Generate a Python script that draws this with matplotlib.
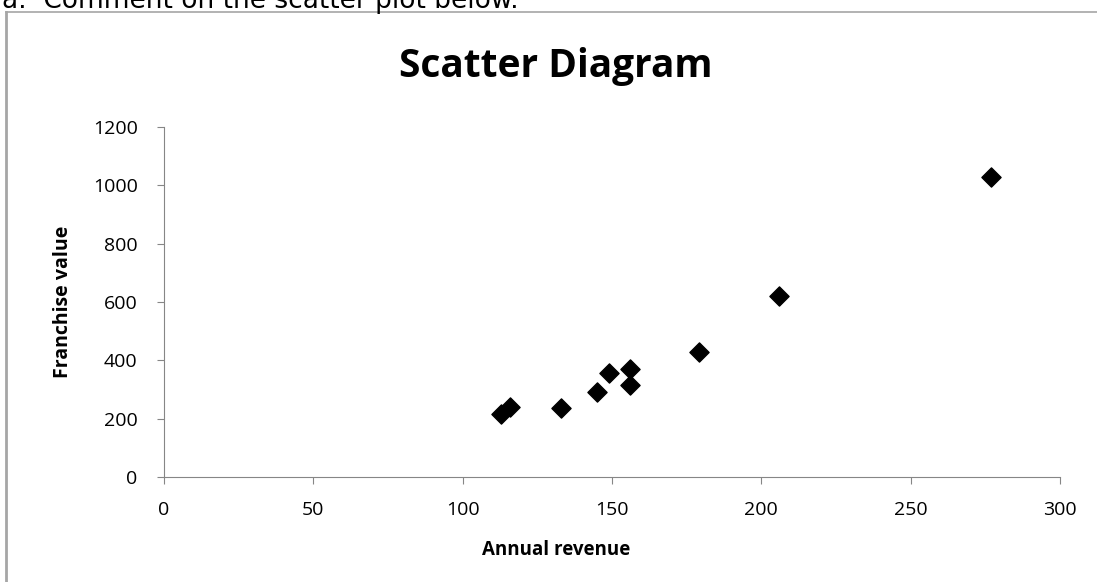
import matplotlib.pyplot as plt
from matplotlib.lines import Line2D

annual_revenue = [113, 116, 133, 145, 149, 156, 156, 179, 206, 277]
franchise_value = [215, 240, 235, 293, 355, 370, 315, 430, 620, 1030]
x_ticks = [0, 50, 100, 150, 200, 250, 300]
y_ticks = [0, 200, 400, 600, 800, 1000, 1200]

plt.rcParams['font.family'] = ['Open Sans', 'DejaVu Sans']

W, H = 1097, 582
fig = plt.figure(figsize=(W / 100, H / 100), dpi=100)
ax = fig.add_axes([164 / W, 1 - 477 / H, (1060 - 164) / W, (477 - 127) / H])

ax.scatter(annual_revenue, franchise_value, marker='D', s=95, color='black', zorder=3)

ax.set_xlim(0, 300)
ax.set_ylim(0, 1200)
ax.set_xticks(x_ticks)
ax.set_yticks(y_ticks)
ax.tick_params(colors='#868686', labelcolor='black', labelsize=14, direction='out', length=5)
ax.tick_params(axis='x', pad=12)
ax.tick_params(axis='y', pad=14)
for side in ['top', 'right']:
    ax.spines[side].set_visible(False)
for side in ['left', 'bottom']:
    ax.spines[side].set_color('#868686')

ax.set_xlabel('Annual revenue', fontsize=13.5, fontweight='bold')
ax.set_ylabel('Franchise value', fontsize=14, fontweight='bold')
ax.xaxis.set_label_coords((556 - 164) / 896, -(550 - 477) / 350)
ax.yaxis.set_label_coords(-(164 - 63) / 896, 0.5)
ax.xaxis.label.set_va('center')
ax.yaxis.label.set_va('center')
fig.text(556 / W, 1 - 66 / H, 'Scatter Diagram', fontsize=28, fontweight='bold',
         ha='center', va='center')

# frame of the chart box and the cut-off line of text above it
fig.add_artist(Line2D([6 / W, 6 / W], [0, 1 - 12 / H], color='#a6a6a6', lw=2))
fig.add_artist(Line2D([6 / W, 1], [1 - 12 / H, 1 - 12 / H], color='#a6a6a6', lw=1.2))
fig.text(2 / W, 1 - 8 / H, 'a.  Comment on the scatter plot below.', fontsize=19,
         family='DejaVu Sans', va='baseline')

fig.savefig('out.png', dpi=100)
